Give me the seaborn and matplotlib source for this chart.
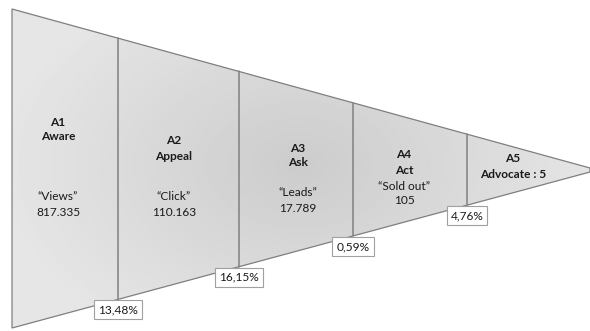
import numpy as np
import pandas as pd
import matplotlib
matplotlib.use("Agg")
import matplotlib.pyplot as plt
from matplotlib.patches import Polygon
import seaborn as sns

# ---- data ----
codes = ["A1", "A2", "A3", "A4", "A5"]
stages = ["Aware", "Appeal", "Ask", "Act", "Advocate"]
metrics = ["\u201cViews\u201d", "\u201cClick\u201d", "\u201cLeads\u201d", "\u201cSold out\u201d", ""]
values = ["817.335", "110.163", "17.789", "105", "5"]
conversions = ["13,48%", "16,15%", "0,59%", "4,76%"]

# ---- layout (pixel coords of the 590x331 canvas) ----
bounds_x = [12, 118, 239, 353, 467, 590]
label_cx = [58, 174, 298, 404, 513]
top_left, top_apex = 9, 168
bot_left, bot_apex = 328, 172

def top_y(x):
    return top_left + (top_apex - top_left) * (x - bounds_x[0]) / (bounds_x[-1] - bounds_x[0])

def bot_y(x):
    return bot_left + (bot_apex - bot_left) * (x - bounds_x[0]) / (bounds_x[-1] - bounds_x[0])

sns.set_theme(style="white")
plt.rcParams["font.family"] = ["Lato", "DejaVu Sans"]

fig = plt.figure(figsize=(5.9, 3.31), dpi=100)
ax = fig.add_axes([0, 0, 1, 1])

# funnel polygon with radial gray gradient
poly_pts = [(bounds_x[0], top_y(bounds_x[0])), (bounds_x[-1], top_y(bounds_x[-1])),
            (bounds_x[-1], bot_y(bounds_x[-1])), (bounds_x[0], bot_y(bounds_x[0]))]
poly = Polygon(poly_pts, closed=True, facecolor="none", edgecolor="#7f7f7f", lw=0.9, zorder=3)
ax.add_patch(poly)

gx, gy = np.meshgrid(np.linspace(0, 590, 400), np.linspace(0, 331, 240))
r = np.sqrt(((gx - 300) / 300) ** 2 + ((gy - 165) / 200) ** 2)
shade = 0.80 + 0.10 * np.clip(r, 0, 1)
img = ax.imshow(shade, extent=(0, 590, 331, 0), cmap="gray", vmin=0, vmax=1,
                interpolation="bilinear", zorder=1, aspect="auto")
clip = Polygon(poly_pts, closed=True, transform=ax.transData)
img.set_clip_path(clip)

# dividers
div_df = pd.DataFrame({
    "x": [b for b in bounds_x[1:-1] for _ in range(2)],
    "y": [v for b in bounds_x[1:-1] for v in (top_y(b), bot_y(b))],
    "seg": [i for i in range(len(bounds_x) - 2) for _ in range(2)],
})
sns.lineplot(data=div_df, x="x", y="y", units="seg", estimator=None, sort=False,
             color="#808080", lw=1.1, ax=ax, zorder=4)
ax.set_xlim(0, 590)
ax.set_ylim(331, 0)
ax.axis("off")

# stage texts
fs = 8.6
tc = "#1a1a1a"
head_y = [[122, 137], [141, 156], [148, 163], [155, 170], [158, 174]]
body_y = [[197, 212], [197, 212], [193, 208], [186, 201]]
for i in range(5):
    cx = label_cx[i]
    ax.text(cx, head_y[i][0], codes[i], ha="center", va="center", fontsize=fs,
            fontweight="bold", color=tc, zorder=5)
    if i == 4:
        ax.text(cx, head_y[i][1], f"{stages[i]} : {values[i]}", ha="center", va="center",
                fontsize=fs, fontweight="bold", color=tc, zorder=5)
        continue
    ax.text(cx, head_y[i][1], stages[i], ha="center", va="center", fontsize=fs,
            fontweight="bold", color=tc, zorder=5)
    ax.text(cx, body_y[i][0], metrics[i], ha="center", va="center", fontsize=fs,
            color=tc, zorder=5)
    ax.text(cx, body_y[i][1], values[i], ha="center", va="center", fontsize=fs,
            color=tc, zorder=5)

# conversion boxes
for i, c in enumerate(conversions):
    bx = bounds_x[i + 1]
    by = bot_y(bx) + 10.5
    ax.text(bx, by, c, ha="center", va="center", fontsize=fs, color=tc, zorder=6,
            bbox=dict(boxstyle="square,pad=0.33", facecolor="white", edgecolor="#a0a0a0", lw=0.8))

fig.savefig("out.png", dpi=100)
